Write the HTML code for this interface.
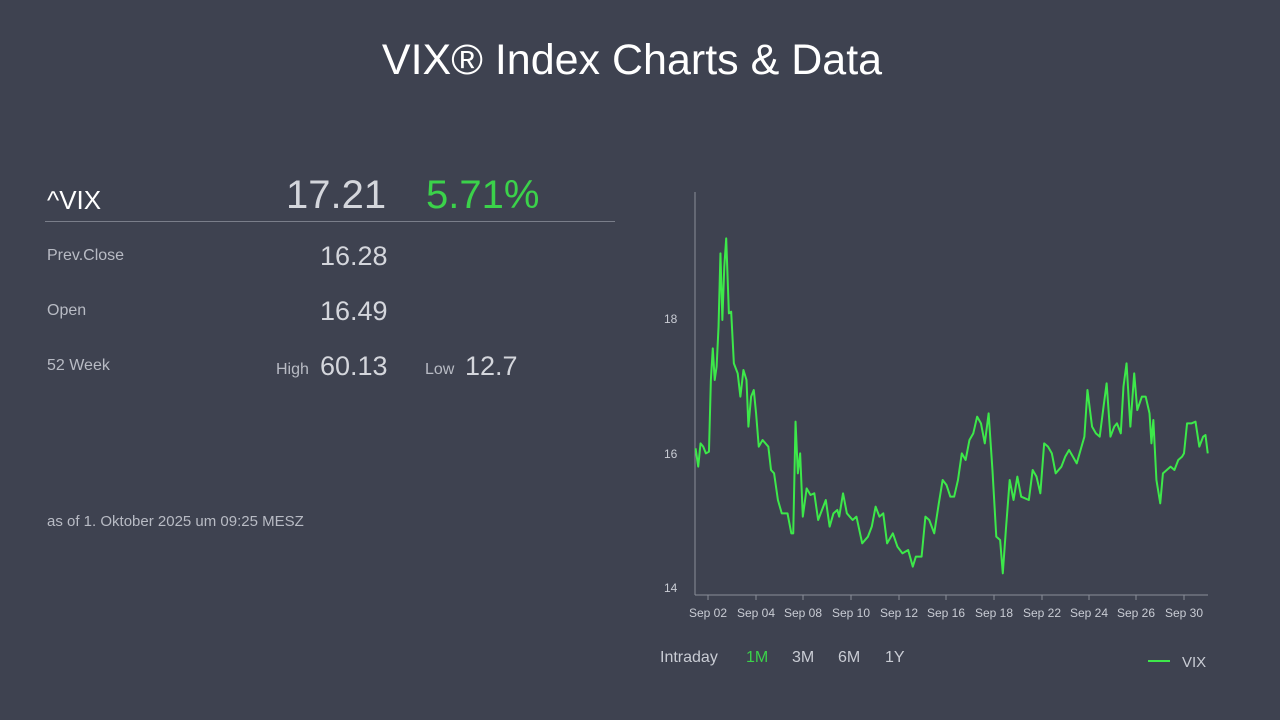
<!DOCTYPE html>
<html><head><meta charset="utf-8"><style>
html,body{margin:0;padding:0;width:1280px;height:720px;background:#3e4250;overflow:hidden;font-family:"Liberation Sans",sans-serif;color:#c9ccd4}
.t{position:absolute;white-space:nowrap}
</style></head><body>
<div class="t" style="left:0;width:1264px;text-align:center;top:36px;font-size:43px;color:#fff">VIX® Index Charts &amp; Data</div>
<div class="t" style="left:47px;top:185px;font-size:26px;color:#fff">^VIX</div>
<div class="t" style="left:286px;top:173px;font-size:40px;color:#d4d6dc">17.21</div>
<div class="t" style="left:426px;top:173px;font-size:40px;color:#3bd24a">5.71%</div>
<div style="position:absolute;left:45px;top:221px;width:570px;height:1px;background:#7a7e8a"></div>
<div class="t" style="left:47px;top:247px;font-size:16px;color:#b8bbc4">Prev.Close</div>
<div class="t" style="left:320px;top:241px;font-size:27px;color:#d4d6dc">16.28</div>
<div class="t" style="left:47px;top:302px;font-size:16px;color:#b8bbc4">Open</div>
<div class="t" style="left:320px;top:296px;font-size:27px;color:#d4d6dc">16.49</div>
<div class="t" style="left:47px;top:357px;font-size:16px;color:#b8bbc4">52 Week</div>
<div class="t" style="left:276px;top:361px;font-size:16px;color:#b8bbc4">High</div>
<div class="t" style="left:320px;top:351px;font-size:27px;color:#d4d6dc">60.13</div>
<div class="t" style="left:425px;top:361px;font-size:16px;color:#b8bbc4">Low</div>
<div class="t" style="left:465px;top:351px;font-size:27px;color:#d4d6dc">12.7</div>
<div class="t" style="left:47px;top:513px;font-size:15px;color:#b8bbc4">as of 1. Oktober 2025 um 09:25 MESZ</div>
<svg width="1280" height="720" style="position:absolute;left:0;top:0">
<line x1="695" y1="192" x2="695" y2="595" stroke="#8a8e99" stroke-width="1"/>
<line x1="695" y1="595" x2="1208" y2="595" stroke="#8a8e99" stroke-width="1"/>
<g fill="#c9ccd4" font-size="12" font-family="Liberation Sans,sans-serif">
<text x="664" y="323">18</text><text x="664" y="458">16</text><text x="664" y="592">14</text>
</g>
<g stroke="#8a8e99"><line x1="708" y1="595" x2="708" y2="600"/><line x1="756" y1="595" x2="756" y2="600"/><line x1="803" y1="595" x2="803" y2="600"/><line x1="851" y1="595" x2="851" y2="600"/><line x1="899" y1="595" x2="899" y2="600"/><line x1="946" y1="595" x2="946" y2="600"/><line x1="994" y1="595" x2="994" y2="600"/><line x1="1042" y1="595" x2="1042" y2="600"/><line x1="1089" y1="595" x2="1089" y2="600"/><line x1="1136" y1="595" x2="1136" y2="600"/><line x1="1184" y1="595" x2="1184" y2="600"/></g>
<g fill="#c9ccd4" font-size="12" text-anchor="middle" font-family="Liberation Sans,sans-serif">
<text x="708" y="617">Sep 02</text><text x="756" y="617">Sep 04</text><text x="803" y="617">Sep 08</text><text x="851" y="617">Sep 10</text><text x="899" y="617">Sep 12</text><text x="946" y="617">Sep 16</text><text x="994" y="617">Sep 18</text><text x="1042" y="617">Sep 22</text><text x="1089" y="617">Sep 24</text><text x="1136" y="617">Sep 26</text><text x="1184" y="617">Sep 30</text>
</g>
<g transform="translate(640,180) scale(0.3831,0.33333)">
<polyline fill="none" stroke="#3de84a" stroke-width="2" vector-effect="non-scaling-stroke" stroke-linejoin="round" points="145,805 152,860 158,790 165,800 172,820 180,815 185,600 190,505 195,600 200,560 205,440 210,220 215,420 220,260 225,175 232,400 238,395 245,550 255,580 262,650 270,570 278,600 283,740 290,650 297,630 303,700 310,800 320,780 335,800 342,870 350,880 360,960 370,1000 385,1000 395,1060 400,1060 406,725 412,880 418,820 425,1010 435,925 445,945 455,940 465,1020 475,990 485,960 495,1040 505,1000 515,990 520,1010 530,940 540,1000 555,1020 565,1010 580,1090 595,1070 605,1040 615,980 625,1010 635,1000 645,1090 660,1060 672,1100 685,1120 700,1110 712,1160 720,1130 735,1130 745,1010 755,1020 768,1060 780,970 790,900 800,915 810,950 820,950 830,900 840,820 850,840 860,780 870,760 880,710 890,730 900,790 910,700 920,870 930,1070 940,1080 947,1180 955,1050 965,900 975,960 985,890 995,950 1005,955 1015,960 1025,870 1035,890 1045,940 1055,790 1065,800 1075,820 1085,880 1100,860 1110,830 1120,810 1130,830 1140,850 1150,810 1160,770 1168,630 1180,740 1190,760 1200,770 1210,680 1218,610 1228,770 1238,740 1245,730 1255,760 1262,620 1270,550 1280,740 1290,580 1298,690 1310,650 1320,650 1330,700 1335,790 1340,720 1348,900 1358,970 1365,880 1375,870 1385,860 1395,870 1405,840 1415,830 1420,820 1428,730 1440,730 1450,725 1460,800 1470,770 1476,765 1482,820"/>
</g>
<line x1="1148" y1="661" x2="1170" y2="661" stroke="#3de84a" stroke-width="2"/>
<text x="1182" y="667" fill="#c9ccd4" font-size="15" font-family="Liberation Sans,sans-serif">VIX</text>
</svg>
<div class="t" style="left:660px;top:649px;font-size:16px;color:#c9ccd4">Intraday</div>
<div class="t" style="left:746px;top:649px;font-size:16px;color:#3bd24a">1M</div>
<div class="t" style="left:792px;top:649px;font-size:16px;color:#c9ccd4">3M</div>
<div class="t" style="left:838px;top:649px;font-size:16px;color:#c9ccd4">6M</div>
<div class="t" style="left:885px;top:649px;font-size:16px;color:#c9ccd4">1Y</div>
</body></html>
